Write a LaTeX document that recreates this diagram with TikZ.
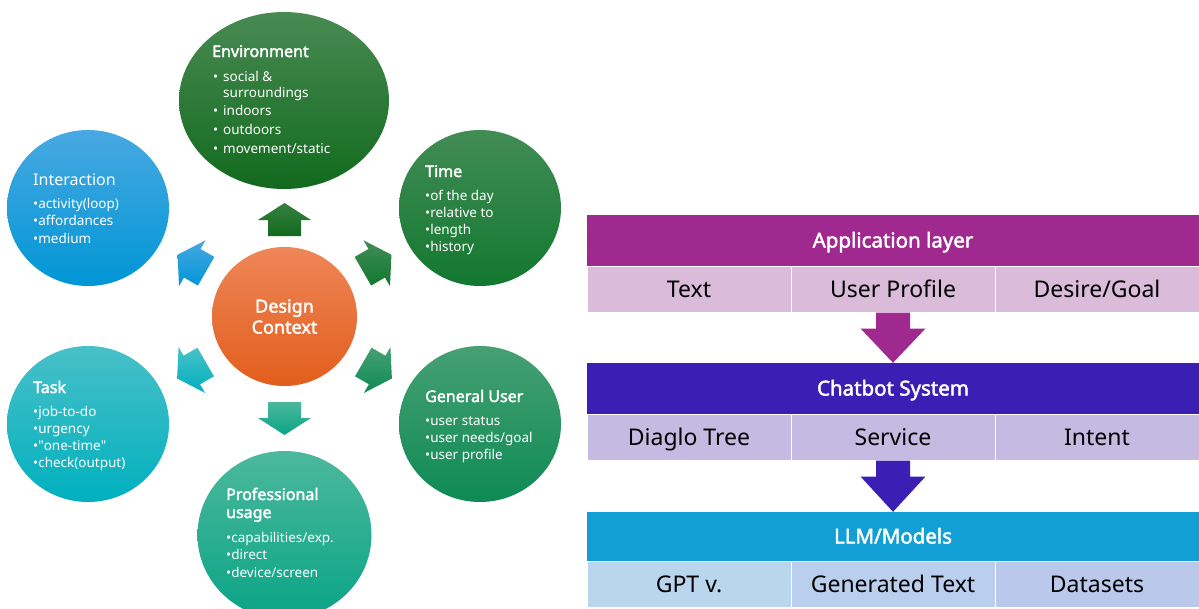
\documentclass[tikz,border=0pt]{standalone}
\usepackage{fontspec}
\setmainfont{Noto Sans}[BoldFont={Noto Sans}, BoldFeatures={FakeBold=2.2}]
\usetikzlibrary{shapes.geometric,calc}

% circle palette (top / bottom of each vertical gradient)
\definecolor{envT}{RGB}{72,138,82}
\definecolor{envB}{RGB}{18,106,30}
\definecolor{timT}{RGB}{66,140,85}
\definecolor{timB}{RGB}{18,120,48}
\definecolor{genT}{RGB}{70,160,115}
\definecolor{genB}{RGB}{14,138,84}
\definecolor{proT}{RGB}{76,184,156}
\definecolor{proB}{RGB}{10,164,134}
\definecolor{tskT}{RGB}{72,192,200}
\definecolor{tskB}{RGB}{0,176,190}
\definecolor{intT}{RGB}{72,168,225}
\definecolor{intB}{RGB}{0,150,214}
\definecolor{dcT}{RGB}{238,134,88}
\definecolor{dcM}{RGB}{240,112,46}
\definecolor{dcB}{RGB}{226,94,28}
% layer table palette
\definecolor{appc}{RGB}{160,41,143}
\definecolor{appcell}{RGB}{218,187,217}
\definecolor{chatc}{RGB}{59,31,181}
\definecolor{chatcell}{RGB}{197,186,225}
\definecolor{llmc}{RGB}{17,159,214}
\definecolor{llmcellA}{RGB}{185,214,238}
\definecolor{llmcellB}{RGB}{186,206,238}
\definecolor{llmcellC}{RGB}{186,200,236}

% straight double quote (no TeX quote mapping)
\newcommand\sq{{\addfontfeatures{Ligatures=TeXOff}"}}

% block arrow pointing away from the design-context hub:
% #1 angle, #2 distance of the head base, #3/#4 gradient colours
\newcommand\radarrow[4]{%
  \path[top color=#3, bottom color=#4]
    ($(dc.center)+(#1:#2-16)+(#1+90:16.5)$) --
    ($(dc.center)+(#1:#2)+(#1+90:16.5)$) --
    ($(dc.center)+(#1:#2)+(#1+90:26.5)$) --
    ($(dc.center)+(#1:#2+17)$) --
    ($(dc.center)+(#1:#2)+(#1-90:26.5)$) --
    ($(dc.center)+(#1:#2)+(#1-90:16.5)$) --
    ($(dc.center)+(#1:#2-16)+(#1-90:16.5)$) -- cycle;}

\begin{document}
\begin{tikzpicture}[x=1pt,y=-1pt,
  ring/.style={ellipse, inner sep=0pt, draw=none},
  ttl/.style={anchor=base west, inner sep=0pt, text=white,
    font=\bfseries\fontsize{16}{19}\selectfont},
  ttlr/.style={anchor=base west, inner sep=0pt, text=white,
    font=\fontsize{16}{19}\selectfont},
  bul/.style={anchor=base west, inner sep=0pt, text=white,
    font=\fontsize{13.5}{16}\selectfont},
  hdr/.style={rectangle, inner sep=0pt, minimum width=612pt, text=white,
    text height=14pt, text depth=0pt,
    font=\bfseries\fontsize{20.5}{24}\selectfont},
  cell/.style={rectangle, inner sep=0pt, minimum width=204pt,
    minimum height=46pt, draw=white, line width=1pt, text=black,
    text height=16.5pt, text depth=0pt, font=\fontsize{23}{27}\selectfont}]

\path[use as bounding box, fill=white] (0,0) rectangle (1199,608);

% ---------- radial design-context diagram ----------
\node[ring, minimum width=145pt, minimum height=139pt,
  top color=dcT, middle color=dcM, bottom color=dcB, text=white,
  align=center, font=\bfseries\fontsize{18}{21}\selectfont]
  (dc) at (284.5,316.5) {Design\\Context};

\node[ring, minimum width=210pt, minimum height=177pt,
  top color=envT, bottom color=envB] (env) at (284,100.5) {};
\node[ring, minimum width=162pt, minimum height=156pt,
  top color=intT, bottom color=intB] (int) at (88,208) {};
\node[ring, minimum width=162pt, minimum height=156pt,
  top color=timT, bottom color=timB] (tim) at (480,208) {};
\node[ring, minimum width=162pt, minimum height=156pt,
  top color=tskT, bottom color=tskB] (tsk) at (88,424) {};
\node[ring, minimum width=162pt, minimum height=156pt,
  top color=genT, bottom color=genB] (gen) at (480,424) {};
\node[ring, minimum width=174pt, minimum height=168pt,
  top color=proT, bottom color=proB] (pro) at (284.5,535) {};

% arrows from the hub
\radarrow{270}{96.5}{envB!85!white}{envB}
\radarrow{330}{106.5}{timT}{timB}
\radarrow{30}{107}{genT}{genB}
\radarrow{90}{101.5}{proT}{proB}
\radarrow{150}{107}{tskT}{tskB}
\radarrow{210}{106.5}{intT}{intB}

% Environment
\node[ttl] (env-t) at (212,57) {Environment};
\node[bul] (env-b1) at (213,81) {•};
\node[bul] (env-l1) at (223,81) {social \&};
\node[bul] (env-l2) at (223,97) {surroundings};
\node[bul] (env-b3) at (213,115) {•};
\node[bul] (env-l3) at (223,115) {indoors};
\node[bul] (env-b4) at (213,134) {•};
\node[bul] (env-l4) at (223,134) {outdoors};
\node[bul] (env-b5) at (213,153) {•};
\node[bul] (env-l5) at (223,153) {movement/static};

% Time
\node[ttl] (tim-t) at (425,177) {Time};
\foreach \t [count=\i from 0] in {of the day, relative to, length, history}
  \node[bul] (tim-b\i) at (425,200+17*\i) {•\t};

% General User
\node[ttl] (gen-t) at (425,402) {General User};
\foreach \t [count=\i from 0] in {user status, user needs/goal, user profile}
  \node[bul] (gen-b\i) at (425,425+17*\i) {•\t};

% Interaction
\node[ttlr] (int-t) at (33,185) {Interaction};
\foreach \t [count=\i from 0] in {activity(loop), affordances, medium}
  \node[bul] (int-b\i) at (33,208+17.5*\i) {•\t};

% Task
\node[ttl] (tsk-t) at (33,393) {Task};
\foreach \t [count=\i from 0] in {job-to-do, urgency, \sq one-time\sq, check(output)}
  \node[bul] (tsk-b\i) at (33,416+17.3*\i) {•\t};

% Professional usage
\node[ttl] (pro-t1) at (226,500) {Professional};
\node[ttl] (pro-t2) at (226,518) {usage};
\foreach \t [count=\i from 0] in {capabilities/exp., direct, device/screen}
  \node[bul] (pro-b\i) at (226,542+17.5*\i) {•\t};

% ---------- layered system table ----------
\node[hdr, fill=appc, minimum height=51pt] (app) at (893,240.5) {Application layer};
\node[cell, fill=appcell] (app1) at (689,289) {Text};
\node[cell, fill=appcell] (app2) at (893,289) {User Profile};
\node[cell, fill=appcell] (app3) at (1097,289) {Desire/Goal};

\node[hdr, fill=chatc, minimum height=51pt] (chat) at (893,388.5) {Chatbot System};
\node[cell, fill=chatcell] (chat1) at (689,437) {Diaglo Tree};
\node[cell, fill=chatcell] (chat2) at (893,437) {Service};
\node[cell, fill=chatcell] (chat3) at (1097,437) {Intent};

\node[hdr, fill=llmc, minimum height=49pt] (llm) at (893,536.5) {LLM/Models};
\node[cell, fill=llmcellA] (llm1) at (689,584) {GPT v.};
\node[cell, fill=llmcellB] (llm2) at (893,584) {Generated Text};
\node[cell, fill=llmcellC] (llm3) at (1097,584) {Datasets};

% downward block arrows between layers
\fill[appc] ($(app2.south)+(-17,0)$) -- ($(app2.south)+(-17,16)$)
  -- ($(app2.south)+(-32.5,16)$) -- (chat.north)
  -- ($(app2.south)+(32.5,16)$) -- ($(app2.south)+(17,16)$)
  -- ($(app2.south)+(17,0)$) -- cycle;
\fill[chatc] ($(chat2.south)+(-17,0)$) -- ($(chat2.south)+(-17,16)$)
  -- ($(chat2.south)+(-32.5,16)$) -- (llm.north)
  -- ($(chat2.south)+(32.5,16)$) -- ($(chat2.south)+(17,16)$)
  -- ($(chat2.south)+(17,0)$) -- cycle;
\end{tikzpicture}
\end{document}
